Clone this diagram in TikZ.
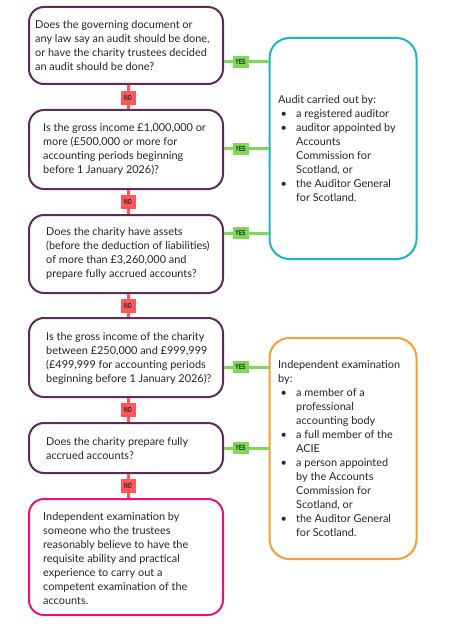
\documentclass[tikz,border=0pt]{standalone}
\usepackage{fontspec}
\setmainfont{Lato}
\newfontfamily\condfont[FakeStretch=0.68]{Liberation Sans}
\definecolor{qpurple}{HTML}{5E2B5F}
\definecolor{qcyan}{HTML}{19B4C8}
\definecolor{qorange}{HTML}{F79D33}
\definecolor{qpink}{HTML}{E6147F}
\definecolor{ygreen}{HTML}{7ED957}
\definecolor{nred}{HTML}{FF5757}
\definecolor{txt}{HTML}{262626}
\newcommand{\bitem}{\makebox[18pt][l]{\hspace{2.5pt}\textbullet}}
\newcommand{\bcont}{\hspace*{18pt}}
\tikzset{
  qbox/.style={draw=qpurple, line width=2pt, rounded corners=15pt, fill=white, minimum width=194pt, inner sep=0pt},
  pbox/.style={draw=qpink, line width=2pt, rounded corners=15pt, fill=white, minimum width=194pt, inner sep=0pt},
  abox/.style={draw=qcyan, line width=2pt, rounded corners=20pt, fill=white, minimum width=147pt, minimum height=221pt, inner sep=0pt},
  ibox/.style={draw=qorange, line width=2pt, rounded corners=20pt, fill=white, minimum width=147pt, minimum height=221pt, inner sep=0pt},
  qtext/.style={anchor=west, align=left, font=\fontsize{10.9}{14}\selectfont, text=txt, inner sep=0pt},
  yline/.style={draw=ygreen, line width=3pt},
  nline/.style={draw=nred, line width=3pt},
  yeslab/.style={fill=ygreen, text=txt, font=\condfont\bfseries\fontsize{7.5}{7.5}\selectfont, inner xsep=2pt, inner ysep=0pt, minimum height=12pt, minimum width=16pt},
  nolab/.style={fill=nred, text=txt, font=\condfont\bfseries\fontsize{7.5}{7.5}\selectfont, inner xsep=2pt, inner ysep=0pt, minimum height=14pt, minimum width=15pt},
}
\begin{document}
\begin{tikzpicture}[x=1pt,y=-1pt]
\useasboundingbox[fill=white] (0,0) rectangle (451,639);
% question boxes
\node[qbox, minimum height=77pt] (b1) at (126,45.5) {};
\node[qbox, minimum height=79pt] (b2) at (126,149.5) {};
\node[qbox, minimum height=78pt] (b3) at (126,254) {};
\node[qbox, minimum height=79pt] (b4) at (126,357.5) {};
\node[qbox, minimum height=50pt] (b5) at (126,448) {};
\node[pbox, minimum height=116pt] (b6) at (126,557) {};
% outcome boxes
\node[abox] (audit) at (343,148.5) {};
\node[ibox] (indep) at (343,448.5) {};
% texts
\node[qtext] (t1) at (35,46) {Does the governing document or\\any law say an audit should be done,\\or have the charity trustees decided\\an audit should be done?};
\node[qtext] (t2) at (43,149) {Is the gross income £1,000,000 or\\more (£500,000 or more for\\accounting periods beginning\\before 1 January 2026)?};
\node[qtext] (t3) at (46,253.5) {Does the charity have assets\\(before the deduction of liabilities)\\of more than £3,260,000 and\\prepare fully accrued accounts?};
\node[qtext] (t4) at (46,358) {Is the gross income of the charity\\between £250,000 and £999,999\\(£499,999 for accounting periods\\beginning before 1 January 2026)?};
\node[qtext] (t5) at (46,448.5) {Does the charity prepare fully\\accrued accounts?};
\node[qtext] (t6) at (43,558.5) {Independent examination by\\someone who the trustees\\reasonably believe to have the\\requisite ability and practical\\experience to carry out a\\competent examination of the\\accounts.};
\node[qtext] (ta) at (278,149) {Audit carried out by:\\\bitem a registered auditor\\\bitem auditor appointed by\\\bcont Accounts\\\bcont Commission for\\\bcont Scotland, or\\\bitem the Auditor General\\\bcont for Scotland.};
\node[qtext] (ti) at (278,449) {Independent examination\\by:\\\bitem a member of a\\\bcont professional\\\bcont accounting body\\\bitem a full member of the\\\bcont ACIE\\\bitem a person appointed\\\bcont by the Accounts\\\bcont Commission for\\\bcont Scotland, or\\\bitem the Auditor General\\\bcont for Scotland.};
% NO connectors
\draw[nline] (b1.south -| 128,0) -- (b2.north -| 128,0);
\draw[nline] (b2.south -| 128,0) -- (b3.north -| 128,0);
\draw[nline] (b3.south -| 128,0) -- (b4.north -| 128,0);
\draw[nline] (b4.south -| 128,0) -- (b5.north -| 128,0);
\draw[nline] (b5.south -| 128,0) -- (b6.north -| 128,0);
\node[nolab] (n1) at (128,98) {NO};
\node[nolab] (n2) at (128,202) {NO};
\node[nolab] (n3) at (128,306) {NO};
\node[nolab] (n4) at (128,410) {NO};
\node[nolab] (n5) at (128,486) {NO};
% YES connectors
\draw[yline] (b1.east |- 0,62) -- (audit.west |- 0,62);
\draw[yline] (b2.east |- 0,149) -- (audit.west |- 0,149);
\draw[yline] (b3.east |- 0,233) -- (audit.west |- 0,233);
\draw[yline] (b4.east |- 0,367) -- (indep.west |- 0,367);
\draw[yline] (b5.east |- 0,448) -- (indep.west |- 0,448);
\node[yeslab] (y1) at (240.5,62) {YES};
\node[yeslab] (y2) at (240.5,149) {YES};
\node[yeslab] (y3) at (240.5,233) {YES};
\node[yeslab] (y4) at (240.5,367) {YES};
\node[yeslab] (y5) at (240.5,448) {YES};
\end{tikzpicture}
\end{document}
